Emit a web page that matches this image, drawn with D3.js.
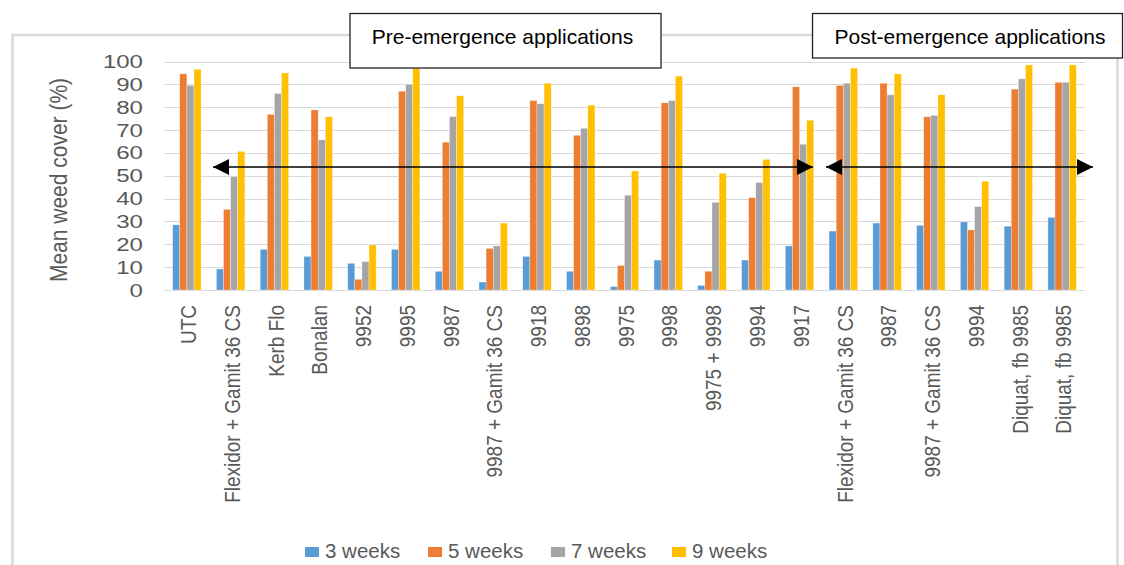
<!DOCTYPE html>
<html>
<head>
<meta charset="utf-8">
<script src="https://cdn.jsdelivr.net/npm/d3@7"></script>
<style>
  body { margin: 0; background: #fff; }
  svg { display: block; font-family: Arial, "Liberation Sans", sans-serif; }
</style>
</head>
<body>
<div id="chart"></div>
<script>
// treatments, pre-emergence first (UTC .. 9917), then post-emergence
const categories = [
  "UTC", "Flexidor + Gamit 36 CS", "Kerb Flo", "Bonalan", "9952", "9995", "9987",
  "9987 + Gamit 36 CS", "9918", "9898", "9975", "9998", "9975 + 9998", "9994", "9917",
  "Flexidor + Gamit 36 CS", "9987", "9987 + Gamit 36 CS", "9994", "Diquat, fb 9985", "Diquat, fb 9985"
];

const weeks3 = [28.5, 9.2, 17.8, 14.7, 11.7, 17.8, 8.2, 3.5, 14.7, 8.2, 1.5, 13.1, 2.0, 13.1, 19.3, 25.8, 29.3, 28.3, 29.8, 27.9, 31.8];
const weeks5 = [94.6, 35.3, 76.9, 78.8, 4.7, 87.0, 64.7, 18.2, 82.9, 67.7, 10.7, 81.9, 8.2, 40.4, 88.9, 89.5, 90.5, 75.8, 26.3, 87.9, 90.9];
const weeks7 = [89.5, 49.6, 86.0, 65.7, 12.4, 90.0, 75.9, 19.3, 81.5, 70.8, 41.5, 82.9, 38.4, 47.0, 63.8, 90.5, 85.4, 76.4, 36.5, 92.4, 90.9];
const weeks9 = [96.6, 60.7, 95.0, 75.8, 19.7, 97.0, 85.0, 29.3, 90.5, 80.9, 52.1, 93.6, 51.1, 57.2, 74.3, 97.1, 94.6, 85.4, 47.6, 98.5, 98.5];

const seriesNames = ["3 weeks", "5 weeks", "7 weeks", "9 weeks"];
const seriesColors = ["#5B9BD5", "#ED7D31", "#A5A5A5", "#FFC000"];
const yTicks = [0, 10, 20, 30, 40, 50, 60, 70, 80, 90, 100];

const W = 1124, H = 565;
const svg = d3.select("#chart").append("svg").attr("width", W).attr("height", H);

// moldura do gráfico
svg.append("rect")
  .attr("x", 12.5).attr("y", 35).attr("width", 1105).attr("height", 600)
  .attr("fill", "none").attr("stroke", "#D9D9D9").attr("stroke-width", 2.5);

// index as key, labels repeat between the two groups
const rows = categories.map((c, i) => ({
  key: i, label: c, vals: [weeks3[i], weeks5[i], weeks7[i], weeks9[i]]
}));

const x = d3.scaleBand()
  .domain(rows.map(d => d.key))
  .range([165, 1084])
  .paddingInner(0.35)
  .paddingOuter(0.175);

const xs = d3.scaleBand().domain(d3.range(4)).range([0, x.bandwidth()]);

const y = d3.scaleLinear().domain([0, 100]).range([290, 61.5]);

// gridlines
svg.append("g").selectAll("line")
  .data(yTicks)
  .join("line")
  .attr("x1", 164).attr("x2", 1085)
  .attr("y1", d => Math.round(y(d)) + 0.5).attr("y2", d => Math.round(y(d)) + 0.5)
  .attr("stroke", "#D9D9D9").attr("stroke-width", 1.2);

// y tick labels (a bit wide, like the source)
svg.append("g").selectAll("text")
  .data(yTicks)
  .join("text")
  .attr("transform", d => `translate(143,${y(d) + 6.5}) scale(1.3,1)`)
  .attr("text-anchor", "end")
  .attr("font-size", 18.5)
  .attr("fill", "#595959")
  .text(d => d);

// y axis title
svg.append("text")
  .attr("transform", "translate(67,180) rotate(-90) scale(1,1.15)")
  .attr("text-anchor", "middle")
  .attr("font-size", 21)
  .attr("fill", "#595959")
  .text("Mean weed cover (%)");

// bars
const groups = svg.append("g").selectAll("g")
  .data(rows)
  .join("g")
  .attr("transform", d => `translate(${x(d.key)},0)`);

groups.selectAll("rect")
  .data(d => d.vals.map((v, j) => ({ v, j })))
  .join("rect")
  .attr("x", d => xs(d.j))
  .attr("width", xs.bandwidth())
  .attr("y", d => y(d.v))
  .attr("height", d => y(0) - y(d.v))
  .attr("fill", d => seriesColors[d.j])
  .attr("stroke", "#fff")
  .attr("stroke-opacity", 0.6)
  .attr("stroke-width", 0.5);

// category labels
svg.append("g").selectAll("text")
  .data(rows)
  .join("text")
  .attr("transform", d => `translate(${x(d.key) + x.bandwidth() / 2 + 1},305) rotate(-90) scale(1,1.2)`)
  .attr("text-anchor", "end")
  .attr("dy", "0.36em")
  .attr("font-size", 19)
  .attr("fill", "#595959")
  .text(d => d.label);

// legend
const legendX = [305, 428, 551, 672];
const legend = svg.append("g").selectAll("g")
  .data(seriesNames)
  .join("g")
  .attr("transform", (d, i) => `translate(${legendX[i]},547)`);
legend.append("rect").attr("width", 14).attr("height", 10).attr("fill", (d, i) => seriesColors[i]);
legend.append("text")
  .attr("x", 20).attr("y", 11)
  .attr("font-size", 20.5)
  .attr("fill", "#595959")
  .text(d => d);

// arrows
const defs = svg.append("defs");
["head-end", "head-start"].forEach((id, k) => {
  defs.append("marker")
    .attr("id", id)
    .attr("viewBox", "0 -8 16 16")
    .attr("refX", k === 0 ? 16 : 0).attr("refY", 0)
    .attr("markerUnits", "userSpaceOnUse")
    .attr("markerWidth", 16).attr("markerHeight", 16)
    .attr("orient", "auto")
    .append("path")
    .attr("d", k === 0 ? "M0,-8L16,0L0,8Z" : "M16,-8L0,0L16,8Z")
    .attr("fill", "#000");
});

const arrows = [[213, 813], [826, 1093]];
svg.append("g").selectAll("line")
  .data(arrows)
  .join("line")
  .attr("x1", d => d[0]).attr("x2", d => d[1])
  .attr("y1", 167).attr("y2", 167)
  .attr("stroke", "#000").attr("stroke-width", 1.5)
  .attr("marker-start", "url(#head-start)")
  .attr("marker-end", "url(#head-end)");

// annotation boxes
const boxes = [
  { x: 350, y: 13.5, w: 311, h: 54.5, cx: 502.5, text: "Pre-emergence applications" },
  { x: 812.5, y: 13.5, w: 310, h: 44.5, cx: 970, text: "Post-emergence applications" }
];
const bx = svg.append("g").selectAll("g").data(boxes).join("g");
bx.append("rect")
  .attr("x", d => d.x).attr("y", d => d.y)
  .attr("width", d => d.w).attr("height", d => d.h)
  .attr("fill", "#fff").attr("stroke", "#222").attr("stroke-width", 1.3);
bx.append("text")
  .attr("x", d => d.cx).attr("y", 43.5)
  .attr("text-anchor", "middle")
  .attr("font-size", 21)
  .attr("fill", "#000")
  .text(d => d.text);
</script>
</body>
</html>
